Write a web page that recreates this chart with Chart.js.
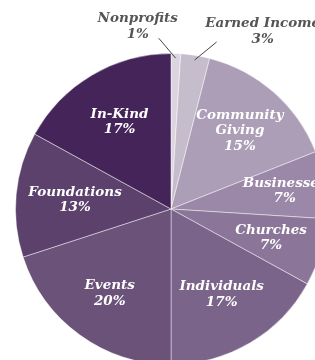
<!DOCTYPE html>
<html>
<head>
<meta charset="utf-8">
<script src="https://cdn.jsdelivr.net/npm/chart.js@4"></script>
<style>
  html, body { margin: 0; padding: 0; background: #fff; }
  body { width: 315px; height: 360px; overflow: hidden; position: relative; }
  #chartCanvas { position: absolute; left: 0; top: 0; }
</style>
</head>
<body>
<canvas id="chartCanvas" width="342" height="418"></canvas>
<script>
const labels = ["Nonprofits", "Earned Income", "Community Giving", "Businesses", "Churches", "Individuals", "Events", "Foundations", "In-Kind"];
const values = [1, 3, 15, 7, 7, 17, 20, 13, 17];
const colors = ["#dcd5e0", "#c6bdcc", "#ad9eb8", "#9b88a8", "#8b7699", "#7a6489", "#6b5279", "#5b416b", "#45245a"];

// label lines inside slices (split on purpose, like the original)
const labelLines = [["Nonprofits"], ["Earned Income"], ["Community", "Giving"], ["Businesses"], ["Churches"], ["Individuals"], ["Events"], ["Foundations"], ["In-Kind"]];

// outside labels with leader lines: offsets from the slice edge point
const outside = {
  0: { line: [-17, -20], text: [-38, -40] },
  1: { line: [22, -18], text: [68, -37] }
};
// how far out the inside labels sit (fraction of radius)
const labelRadius = { 3: 0.74, 5: 0.64, 7: 0.62, 8: 0.65 };

const FONT = "italic bold 13.5px 'DejaVu Serif'";

const labelPlugin = {
  id: "sliceLabels",
  afterDatasetsDraw(chart) {
    const ctx = chart.ctx;
    const meta = chart.getDatasetMeta(0);
    ctx.save();
    ctx.font = FONT;
    ctx.textAlign = "center";
    ctx.textBaseline = "middle";
    meta.data.forEach((arc, i) => {
      const { x, y, startAngle, endAngle, outerRadius } = arc.getProps(["x", "y", "startAngle", "endAngle", "outerRadius"], true);
      const mid = (startAngle + endAngle) / 2;
      const pct = values[i] + "%";
      if (outside[i]) {
        const ex = x + Math.cos(mid) * outerRadius * 0.97;
        const ey = y + Math.sin(mid) * outerRadius * 0.97;
        const o = outside[i];
        ctx.strokeStyle = "#444";
        ctx.lineWidth = 1;
        ctx.beginPath();
        ctx.moveTo(ex, ey);
        ctx.lineTo(ex + o.line[0], ey + o.line[1]);
        ctx.stroke();
        ctx.fillStyle = "#555";
        const tx = ex + o.text[0];
        const ty = ey + o.text[1];
        ctx.fillText(labels[i], tx, ty);
        ctx.fillText(pct, tx, ty + 16);
        return;
      }
      const r = outerRadius * (labelRadius[i] || 0.67);
      const cx = x + Math.cos(mid) * r;
      const cy = y + Math.sin(mid) * r;
      const lines = labelLines[i].concat([pct]);
      const startY = cy - (lines.length - 1) * 15.5 / 2;
      ctx.fillStyle = "#fff";
      lines.forEach((t, k) => ctx.fillText(t, cx, startY + k * 15.5));
    });
    ctx.restore();
  }
};

new Chart(document.getElementById("chartCanvas").getContext("2d"), {
  type: "pie",
  data: {
    labels: labels,
    datasets: [{
      data: values,
      backgroundColor: colors,
      borderColor: "rgba(255,255,255,0.45)",
      borderWidth: 1
    }]
  },
  options: {
    responsive: false,
    animation: false,
    layout: { padding: 15 },
    plugins: {
      legend: { display: false },
      tooltip: { enabled: false }
    }
  },
  plugins: [labelPlugin]
});
</script>
</body>
</html>
